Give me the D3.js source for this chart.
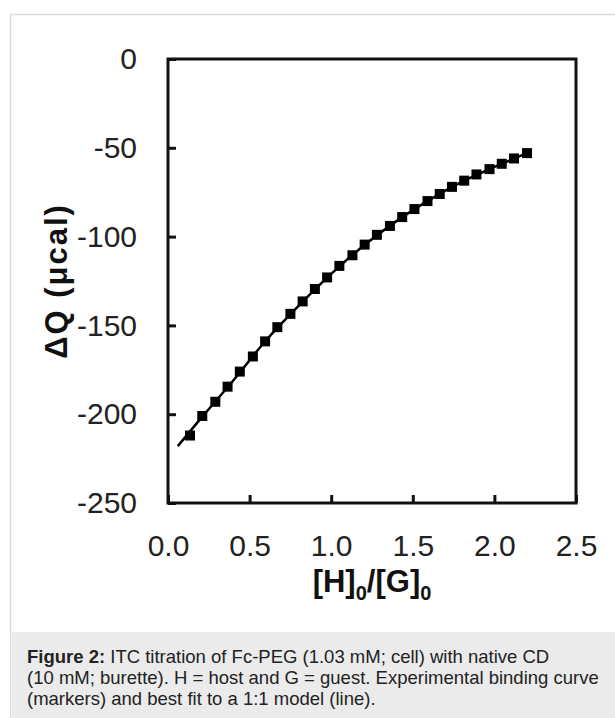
<!DOCTYPE html>
<html>
<head>
    <title>ITC titration</title>
    <script src="https://d3js.org/d3.v7.min.js"></script>
    <style>
        body {
            margin: 0;
            background: #fff;
            font-family: "Liberation Sans", Arial, sans-serif;
        }
        .tick text {
            font-size: 30px;
            fill: #222;
        }
        .axis-label {
            font-size: 31px;
            font-weight: bold;
            fill: #111;
        }
        .caption {
            font-size: 18.5px;
            fill: #222;
        }
    </style>
</head>
<body>
    <div id="chart"></div>

    <script>
        // ratio [H]0/[G]0 of each injection
        const ratio = [0.135, 0.21, 0.29, 0.365, 0.44, 0.52, 0.595, 0.67, 0.75, 0.825,
                       0.90, 0.975, 1.05, 1.13, 1.205, 1.28, 1.36, 1.435, 1.51, 1.59,
                       1.665, 1.74, 1.815, 1.89, 1.97, 2.045, 2.12, 2.2];
        // measured heat (µcal)
        const heat = [-212, -201, -193, -184.5, -176, -167.5, -159, -151, -143.5, -136.5,
                      -129.5, -123, -116.5, -110.5, -104.5, -99, -94, -89, -84.5, -80,
                      -76, -72, -68.5, -65, -62, -59, -56, -53];
        // 1:1 model fit
        const fitRatio = [0.06, 0.2, 0.4, 0.6, 0.8, 1.0, 1.2, 1.4, 1.6, 1.8, 2.0, 2.2];
        const fitHeat = [-218, -202.5, -181, -158.5, -139, -121, -105, -91.3, -79.5, -69.2, -60.8, -53];

        const xTicks = [0, 0.5, 1.0, 1.5, 2.0, 2.5];
        const yTicks = [0, -50, -100, -150, -200, -250];

        const captionLines = [
            ["Figure 2:", " ITC titration of Fc-PEG (1.03 mM; cell) with native CD"],
            ["", "(10 mM; burette). H = host and G = guest. Experimental binding curve"],
            ["", "(markers) and best fit to a 1:1 model (line)."]
        ];

        const width = 615, height = 718;
        const plot = { left: 168, right: 576, top: 59, bottom: 503 };

        const svg = d3.select('#chart').append('svg')
            .attr('width', width)
            .attr('height', height);

        // outer panel + caption box
        svg.append('rect')
            .attr('x', 10.5).attr('y', 14.5)
            .attr('width', 640).attr('height', 740)
            .attr('fill', '#fff')
            .attr('stroke', '#dcdcdc')
            .attr('stroke-width', 1.5);
        svg.append('rect')
            .attr('x', 11.5).attr('y', 632)
            .attr('width', 620).attr('height', 100)
            .attr('fill', '#ebebeb');

        const x = d3.scaleLinear().domain([0, 2.5]).range([plot.left, plot.right]);
        const y = d3.scaleLinear().domain([-250, 0]).range([plot.bottom, plot.top]);

        const yAxisG = svg.append('g')
            .attr('transform', `translate(${plot.left},0)`)
            .call(d3.axisLeft(y).tickValues(yTicks).tickFormat(d => String(d))
                .tickSizeInner(-8).tickSizeOuter(0).tickPadding(31));
        yAxisG.select('.domain').remove();
        yAxisG.selectAll('.tick line').attr('stroke', '#111').attr('stroke-width', 3);

        const xAxisG = svg.append('g')
            .attr('transform', `translate(0,${plot.bottom})`)
            .call(d3.axisBottom(x).tickValues(xTicks).tickFormat(d3.format('.1f'))
                .tickSizeInner(-8).tickSizeOuter(0).tickPadding(32));
        xAxisG.select('.domain').remove();
        xAxisG.selectAll('.tick line').attr('stroke', '#111').attr('stroke-width', 3);

        svg.selectAll('g').attr('font-family', null).attr('font-size', null);

        // frame
        svg.append('rect')
            .attr('x', plot.left).attr('y', plot.top)
            .attr('width', plot.right - plot.left)
            .attr('height', plot.bottom - plot.top)
            .attr('fill', 'none')
            .attr('stroke', '#111')
            .attr('stroke-width', 3);

        // fit line
        const line = d3.line()
            .x(d => x(d[0]))
            .y(d => y(d[1]))
            .curve(d3.curveMonotoneX);
        svg.append('path')
            .datum(fitRatio.map((r, i) => [r, fitHeat[i]]))
            .attr('d', line)
            .attr('fill', 'none')
            .attr('stroke', '#000')
            .attr('stroke-width', 2.5);

        // markers
        const s = 10;
        svg.selectAll('rect.marker')
            .data(ratio.map((r, i) => [r, heat[i]]))
            .enter().append('rect')
            .attr('class', 'marker')
            .attr('x', d => x(d[0]) - s / 2)
            .attr('y', d => y(d[1]) - s / 2)
            .attr('width', s)
            .attr('height', s)
            .attr('fill', '#000');

        // axis titles
        svg.append('text')
            .attr('class', 'axis-label')
            .attr('transform', `translate(67,${(plot.top + plot.bottom) / 2}) rotate(-90)`)
            .attr('text-anchor', 'middle')
            .attr('font-size', 33)
            .attr('letter-spacing', 2)
            .text('ΔQ (μcal)');

        const xl = svg.append('text')
            .attr('class', 'axis-label')
            .attr('x', (plot.left + plot.right) / 2)
            .attr('y', 592)
            .attr('text-anchor', 'middle');
        xl.append('tspan').text('[H]');
        xl.append('tspan').attr('font-size', 20).attr('dy', 8).text('0');
        xl.append('tspan').attr('dy', -8).text('/[G]');
        xl.append('tspan').attr('font-size', 20).attr('dy', 8).text('0');

        // caption
        const cap = svg.append('g');
        captionLines.forEach((ln, i) => {
            const t = cap.append('text')
                .attr('class', 'caption')
                .attr('x', 27)
                .attr('y', 663 + i * 21);
            if (ln[0]) t.append('tspan').attr('font-weight', 'bold').text(ln[0]);
            t.append('tspan').text(ln[1]);
        });
    </script>
</body>
</html>
